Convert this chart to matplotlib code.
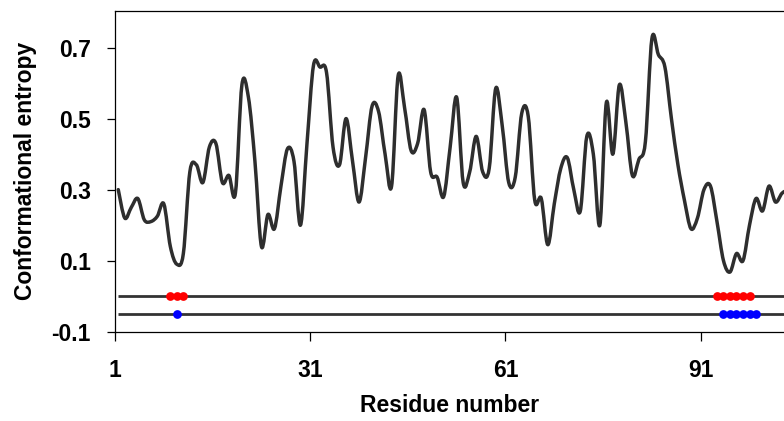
"""Conformational entropy per residue with two annotation tracks."""
import matplotlib
matplotlib.use("Agg")
import matplotlib.pyplot as plt  # noqa: E402
from matplotlib.path import Path  # noqa: E402
from matplotlib.patches import PathPatch  # noqa: E402

# ── Data ───────────────────────────────────────────────────────────────────────

entropy = [
    0.30, 0.22, 0.25, 0.275, 0.215, 0.21, 0.225, 0.26, 0.14, 0.09,
    0.12, 0.35, 0.37, 0.32, 0.42, 0.43, 0.32, 0.34, 0.29, 0.595,
    0.56, 0.38, 0.14, 0.23, 0.19, 0.31, 0.415, 0.38, 0.20, 0.43,
    0.65, 0.645, 0.63, 0.42, 0.37, 0.50, 0.38, 0.265, 0.39, 0.535,
    0.52, 0.40, 0.31, 0.62, 0.53, 0.41, 0.43, 0.525, 0.35, 0.335,
    0.28, 0.42, 0.56, 0.32, 0.35, 0.45, 0.35, 0.36, 0.585, 0.48,
    0.32, 0.335, 0.515, 0.506, 0.27, 0.275, 0.145, 0.26, 0.36, 0.39,
    0.30, 0.24, 0.45, 0.40, 0.20, 0.545, 0.40, 0.595, 0.49, 0.34,
    0.385, 0.435, 0.725, 0.68, 0.645, 0.50, 0.37, 0.27, 0.19, 0.22,
    0.30, 0.31, 0.21, 0.10, 0.068, 0.12, 0.10, 0.20, 0.275, 0.24,
    0.31, 0.265, 0.29, 0.30,
]
residues = list(range(1, len(entropy) + 1))

track_levels = [0.0, -0.05]
red_sites = [9, 10, 11, 93, 94, 95, 96, 97, 98]
blue_sites = [10, 94, 95, 96, 97, 98, 99]

tick_labels = ["1", "31", "61", "91"]
tick_residues = [1, 31, 61, 91]
y_ticks = [-0.1, 0.1, 0.3, 0.5, 0.7]

plt.rcParams["font.family"] = ["Liberation Sans", "DejaVu Sans"]


def smooth_path(xs, ys):
    """Catmull-Rom style bezier through the points (like a smoothed line)."""
    n = len(xs)
    verts = [(xs[0], ys[0])]
    codes = [Path.MOVETO]
    for i in range(n - 1):
        x0, y0 = (xs[i - 1], ys[i - 1]) if i > 0 else (xs[i], ys[i])
        x1, y1 = xs[i], ys[i]
        x2, y2 = xs[i + 1], ys[i + 1]
        x3, y3 = (xs[i + 2], ys[i + 2]) if i + 2 < n else (x2, y2)
        verts += [
            (x1 + (x2 - x0) / 6, y1 + (y2 - y0) / 6),
            (x2 - (x3 - x1) / 6, y2 - (y3 - y1) / 6),
            (x2, y2),
        ]
        codes += [Path.CURVE4] * 3
    return Path(verts, codes)


fig = plt.figure(figsize=(7.84, 4.21), dpi=100)
ax = fig.add_axes([0.1467, 0.2121, 0.8533, 0.7618])

# residue i sits in the middle of its category slot
xs = [r + 0.5 for r in residues]
ax.add_patch(PathPatch(smooth_path(xs, entropy), facecolor="none",
                       edgecolor="#2e2e2e", lw=2.5, capstyle="round",
                       joinstyle="round"))

for lvl in track_levels:
    ax.hlines(lvl, xs[0], xs[-1] + 2, color="#333333", lw=2.0)

ax.plot([r + 0.5 for r in red_sites], [track_levels[0]] * len(red_sites),
        "o", color="#ff0000", ms=6.3, mec="none")
ax.plot([r + 0.5 for r in blue_sites], [track_levels[1]] * len(blue_sites),
        "o", color="#0000ff", ms=6.3, mec="none")

ax.set_xlim(1, 103.8)
ax.set_ylim(-0.1, 0.803)
ax.set_xticks(tick_residues)
ax.set_xticklabels(tick_labels)
ax.set_yticks(y_ticks)
ax.set_yticklabels([f"{v:.1f}" for v in y_ticks])

ax.spines["right"].set_visible(False)
for s in ("left", "top", "bottom"):
    ax.spines[s].set_linewidth(0.9)
ax.tick_params(axis="y", direction="out", length=5.5, width=0.9, pad=12,
               labelsize=16.5)
ax.tick_params(axis="x", direction="out", length=6.5, width=0.9, pad=13,
               labelsize=16.5)
for lab in ax.get_xticklabels() + ax.get_yticklabels():
    lab.set_fontweight("bold")

ax.set_ylabel("Conformational entropy", fontsize=16.5, fontweight="bold",
              labelpad=10)
ax.set_xlabel("Residue number", fontsize=16.5, fontweight="bold", labelpad=9)

fig.savefig("out.png", dpi=100)
